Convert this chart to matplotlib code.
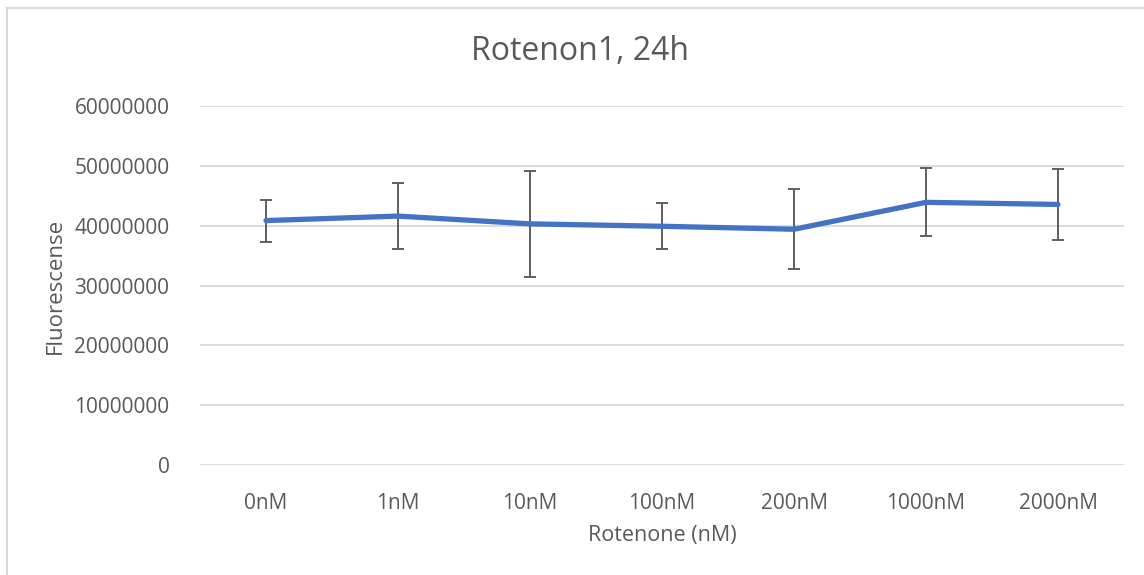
import matplotlib.pyplot as plt
from matplotlib.lines import Line2D

# Rotenon1, 24h - fluorescence vs rotenone dose
doses = ['0nM', '1nM', '10nM', '100nM', '200nM', '1000nM', '2000nM']
fluor = [40850000, 41600000, 40300000, 39900000, 39400000, 43900000, 43550000]
err = [3500000, 5500000, 8800000, 3850000, 6650000, 5700000, 6000000]
yticks = [0, 10000000, 20000000, 30000000, 40000000, 50000000, 60000000]

plt.rcParams['font.family'] = ['Open Sans', 'DejaVu Sans']
txt = '#595959'

fig = plt.figure(figsize=(11.44, 5.75), dpi=100)
ax = fig.add_axes([200/1144, 110/575, 924/1144, 359/575])

x = list(range(len(doses)))
ax.errorbar(x, fluor, yerr=err, fmt='none', ecolor='#5f5f5f',
            elinewidth=1.4, capsize=4.5, capthick=1.4, zorder=3)
ax.plot(x, fluor, color='#4472C4', linewidth=3.8, solid_capstyle='round', zorder=4)

ax.set_xlim(-0.5, len(doses) - 0.5)
ax.set_ylim(0, 60000000)
ax.set_yticks(yticks)
ax.set_yticklabels([str(v) for v in yticks])
ax.set_xticks(x)
ax.set_xticklabels(doses)
ax.yaxis.grid(True, color='#d9d9d9', linewidth=1.3)
ax.set_axisbelow(True)
for s in ax.spines.values():
    s.set_visible(False)
ax.tick_params(axis='both', length=0, labelsize=15, labelcolor=txt)
ax.tick_params(axis='y', pad=22)
ax.tick_params(axis='x', pad=20)

# title is centred on the whole chart area, not the plot
fig.text(580/1144, 1 - 52/575, 'Rotenon1, 24h', fontsize=23, color=txt,
         ha='center', va='center')
ax.set_xlabel('Rotenone (nM)', fontsize=15.5, color=txt, labelpad=8)
ax.set_ylabel('Fluorescense', fontsize=16, color=txt, labelpad=6)

# chart area border (top and left visible)
fig.add_artist(Line2D([7/1144, 7/1144], [0, 1 - 8/575], transform=fig.transFigure,
                      color='#d9d9d9', linewidth=1.5))
fig.add_artist(Line2D([7/1144, 1], [1 - 8/575, 1 - 8/575], transform=fig.transFigure,
                      color='#d9d9d9', linewidth=1.5))

fig.savefig('out.png', dpi=100)
